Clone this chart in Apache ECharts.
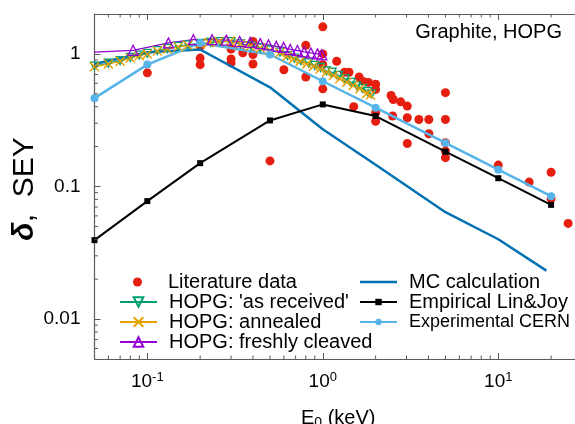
<!DOCTYPE html>
<html><head><meta charset="utf-8">
<script src="https://cdn.jsdelivr.net/npm/echarts@6/dist/echarts.min.js"></script>
<style>html,body{margin:0;padding:0;background:#fff}#c{width:575px;height:424px}</style>
</head><body><div id="c"></div>
<script>
const FONT = "'Liberation Sans', Arial, Helvetica, sans-serif";
const AXIS_COLOR = '#5a5a5a';
const xMin = 0.05, xMax = 30, yMin = 0.005, yMax = 2;
const xMinorTicks = [0.06,0.07,0.08,0.09,0.2,0.3,0.4,0.5,0.6,0.7,0.8,0.9,2,3,4,5,6,7,8,9,20];
const yMinorTicks = [0.006,0.007,0.008,0.009,0.02,0.03,0.04,0.05,0.06,0.07,0.08,0.09,0.2,0.3,0.4,0.5,0.6,0.7,0.8,0.9];

// Literature data (scatter)
const litE = [0.1,0.2,0.2,0.2,0.3,0.3,0.3,0.35,0.4,0.4,0.4,0.5,0.6,0.8,0.8,1.0,1.0,1.0,1.0,1.2,1.33,1.41,1.5,1.61,1.7,1.82,2.0,2.0,2.0,2.0,2.45,2.52,2.5,2.78,3.03,3.03,3.03,3.53,4.02,4.02,5.0,5.0,5.0,5.0,5.0,10,15,20,20,25];
const litY = [0.72,0.93,0.83,1.14,0.915,0.855,1.09,1.02,0.99,0.84,1.24,0.156,0.76,1.16,0.67,1.6,1.0,0.83,0.545,0.88,0.727,0.727,0.40,0.67,0.62,0.61,0.59,0.54,0.36,0.31,0.486,0.453,0.34,0.435,0.404,0.33,0.211,0.32,0.32,0.25,0.51,0.32,0.214,0.185,0.165,0.145,0.108,0.128,0.081,0.0527];

// HOPG: 'as received'
const recE = [0.05,0.06,0.07,0.08,0.09,0.1,0.114,0.13,0.15,0.17,0.2,0.23,0.26,0.3,0.34,0.39,0.44,0.5,0.57,0.63,0.69,0.75,0.83,0.9,0.97,1.05,1.13,1.23,1.34,1.45,1.56,1.68,1.8,1.9];
const recY = [0.81,0.85,0.89,0.94,0.98,1.01,1.06,1.10,1.14,1.17,1.20,1.22,1.24,1.24,1.19,1.15,1.11,1.07,1.03,0.97,0.93,0.89,0.855,0.82,0.79,0.745,0.727,0.69,0.65,0.61,0.575,0.55,0.52,0.50];

// HOPG: annealed
const annE = [0.05,0.06,0.07,0.08,0.09,0.1,0.114,0.13,0.15,0.17,0.2,0.225,0.255,0.297,0.338,0.386,0.44,0.5,0.57,0.624,0.68,0.743,0.81,0.885,0.965,1.05,1.15,1.25,1.37,1.49,1.63,1.78,1.87];
const annY = [0.80,0.84,0.88,0.93,0.97,1.0,1.05,1.09,1.13,1.16,1.19,1.22,1.24,1.25,1.19,1.14,1.11,1.065,1.02,0.96,0.917,0.88,0.84,0.807,0.77,0.727,0.687,0.65,0.612,0.578,0.545,0.503,0.49];

// HOPG: freshly cleaved
const clvE = [0.05,0.083,0.132,0.183,0.234,0.282,0.336,0.386,0.44,0.49,0.543,0.597,0.652,0.717,0.783,0.855,0.932,0.987];
const clvY = [1.03,1.065,1.21,1.28,1.28,1.27,1.24,1.22,1.195,1.17,1.14,1.12,1.08,1.06,1.035,1.017,1.0,0.985];

// MC calculation
const mcE = [0.05,0.1,0.2,0.5,1,2,5,10,18.8];
const mcY = [0.84,1.03,1.08,0.56,0.27,0.146,0.064,0.040,0.0232];

// Empirical Lin&Joy
const ljE = [0.05,0.1,0.2,0.5,1,2,5,10,20];
const ljY = [0.0394,0.0776,0.15,0.315,0.416,0.34,0.183,0.1155,0.0727];

// Experimental CERN
const cernE = [0.05,0.1,0.2,0.5,1,2,5,10,20];
const cernY = [0.464,0.831,1.21,0.99,0.622,0.393,0.213,0.134,0.0846];

const zip = (a, b) => a.map((v, i) => [v, b[i]]);

function minorTicks(values, dim) {
  return {
    type: 'custom', silent: true, z: 5, clip: false, animation: false,
    data: values.map(v => dim === 'x' ? [v, 1] : [1, v]),
    renderItem: (params, api) => {
      const cs = params.coordSys;
      const p = api.coord([api.value(0), api.value(1)]);
      const st = {stroke: AXIS_COLOR, lineWidth: 1};
      if (dim === 'x') {
        return {type: 'group', children: [
          {type: 'line', shape: {x1: p[0], y1: cs.y + cs.height, x2: p[0], y2: cs.y + cs.height - 3.5}, style: st},
          {type: 'line', shape: {x1: p[0], y1: cs.y, x2: p[0], y2: cs.y + 3.5}, style: st}
        ]};
      }
      return {type: 'line', shape: {x1: cs.x, y1: p[1], x2: cs.x + 3.5, y2: p[1]}, style: st};
    }
  };
}

const isPow10 = v => Math.abs(Math.log10(v) - Math.round(Math.log10(v))) < 1e-6;

const chart = echarts.init(document.getElementById('c'), null, {renderer: 'canvas'});
chart.setOption({
  animation: false,
  backgroundColor: '#fff',
  grid: {left: 94.5, top: 14, width: 487.5, height: 345, containLabel: false, outerBoundsMode: 'none'},
  xAxis: [{
    type: 'log', logBase: 10, min: xMin, max: xMax, position: 'bottom',
    axisLine: {show: true, lineStyle: {color: AXIS_COLOR, width: 1.2}},
    axisTick: {show: true, inside: true, length: 6, lineStyle: {color: AXIS_COLOR}},
    splitLine: {show: false}, minorTick: {show: false},
    axisLabel: {
      margin: 12, showMinLabel: false, showMaxLabel: false,
      formatter: v => isPow10(v) ? '{b|10}{s|' + Math.round(Math.log10(v)) + '}' : '',
      rich: {
        b: {fontSize: 19, fontFamily: FONT, color: '#000'},
        s: {fontSize: 13, fontFamily: FONT, color: '#000', padding: [0, 0, 9, 0]}
      }
    },
    name: '{e|E}{o|0}{e| (keV)}', nameLocation: 'middle', nameGap: 48,
    nameTextStyle: {
      rich: {
        e: {fontSize: 20, fontFamily: FONT, color: '#000'},
        o: {fontSize: 14, fontFamily: FONT, color: '#000', padding: [9, 0, 0, 0]}
      }
    }
  }, {
    type: 'log', logBase: 10, min: xMin, max: xMax, position: 'top',
    axisLine: {show: true, lineStyle: {color: AXIS_COLOR, width: 1.2}},
    axisTick: {show: true, inside: true, length: 6, lineStyle: {color: AXIS_COLOR}},
    axisLabel: {show: false}, splitLine: {show: false}
  }],
  yAxis: [{
    type: 'log', logBase: 10, min: yMin, max: yMax,
    axisLine: {show: true, lineStyle: {color: AXIS_COLOR, width: 1.2}},
    axisTick: {show: true, inside: true, length: 6, lineStyle: {color: AXIS_COLOR}},
    splitLine: {show: false},
    axisLabel: {
      margin: 14, showMinLabel: false, showMaxLabel: false,
      fontSize: 19, fontFamily: FONT, color: '#000',
      formatter: v => isPow10(v) ? String(+v.toPrecision(3)) : ''
    }
  }],
  legend: [{
    left: 133, top: 272, orient: 'vertical', padding: 0, itemGap: 0,
    itemWidth: 37, itemHeight: 9, selectedMode: false,
    textStyle: {fontSize: 20, fontFamily: FONT, color: '#000', lineHeight: 20, padding: [0, 0, 0, 7]},
    data: [{name: 'Literature data', icon: 'circle'}]
  }, {
    left: 119, top: 292, orient: 'vertical', padding: 0, itemGap: 0,
    itemWidth: 37, itemHeight: 12, selectedMode: false,
    textStyle: {fontSize: 20, fontFamily: FONT, color: '#000', lineHeight: 20, padding: [0, 0, 0, 7]},
    data: ["HOPG: 'as received'", 'HOPG: annealed', 'HOPG: freshly cleaved']
  }, {
    left: 359, top: 272, orient: 'vertical', padding: 0, itemGap: 0,
    itemWidth: 37, itemHeight: 8, selectedMode: false,
    formatter: n => n === 'Experimental CERN' ? '{s|' + n + '}' : n,
    textStyle: {fontSize: 20, fontFamily: FONT, color: '#000', lineHeight: 20, padding: [0, 0, 0, 7],
      rich: {s: {fontSize: 18, fontFamily: FONT, color: '#000', lineHeight: 20}}},
    data: [{name: 'MC calculation', icon: 'path://M0,0L37,0L37,2.5L0,2.5Z'}, 'Empirical Lin&Joy', 'Experimental CERN']
  }],
  graphic: [{
    type: 'text', x: 562, y: 32,
    style: {text: 'Graphite, HOPG', fontSize: 20, fontFamily: FONT, fill: '#000', align: 'right', verticalAlign: 'middle'}
  }, {
    type: 'text', x: 25, y: 189, rotation: Math.PI / 2,
    style: {
      text: '{d|δ}{n|,  SEY}', align: 'center', verticalAlign: 'middle',
      rich: {
        d: {fontSize: 30, fontFamily: FONT, fontWeight: 'bold', fontStyle: 'italic', fill: '#000'},
        n: {fontSize: 30, fontFamily: FONT, fill: '#000'}
      }
    }
  }],
  series: [
    {name: 'Literature data', type: 'scatter', data: zip(litE, litY), symbol: 'circle', symbolSize: 9,
      itemStyle: {color: '#E51E10', opacity: 1}, emphasis: {disabled: true}},
    {name: "HOPG: 'as received'", type: 'line', data: zip(recE, recY), symbol: 'triangle', symbolRotate: 180, symbolSize: 8,
      lineStyle: {color: '#009E73', width: 1.3}, itemStyle: {color: 'rgba(0,0,0,0)', borderColor: '#009E73', borderWidth: 1.3},
      emphasis: {disabled: true}},
    {name: 'HOPG: annealed', type: 'line', data: zip(annE, annY), symbol: 'path://M0,0L10,10M10,0L0,10', symbolSize: 9,
      lineStyle: {color: '#E69F00', width: 1.3}, itemStyle: {color: '#E69F00', borderColor: '#E69F00', borderWidth: 1.4},
      emphasis: {disabled: true}},
    {name: 'HOPG: freshly cleaved', type: 'line', data: zip(clvE, clvY).map((d, i) => i === 0 ? {value: d, symbol: 'none'} : d),
      symbol: 'triangle', symbolSize: 10,
      lineStyle: {color: '#9400D3', width: 1.3}, itemStyle: {color: 'rgba(0,0,0,0)', borderColor: '#9400D3', borderWidth: 1.3},
      emphasis: {disabled: true}},
    {name: 'MC calculation', type: 'line', data: zip(mcE, mcY), symbol: 'none',
      lineStyle: {color: '#0072B2', width: 2.5}, itemStyle: {color: '#0072B2'}, emphasis: {disabled: true}},
    {name: 'Empirical Lin&Joy', type: 'line', data: zip(ljE, ljY), symbol: 'rect', symbolSize: 6,
      lineStyle: {color: '#000', width: 2}, itemStyle: {color: '#000'}, emphasis: {disabled: true}},
    {name: 'Experimental CERN', type: 'line', data: zip(cernE, cernY), symbol: 'circle', symbolSize: 8,
      lineStyle: {color: '#56B4E9', width: 2.5}, itemStyle: {color: '#56B4E9'}, emphasis: {disabled: true}},
    minorTicks(xMinorTicks, 'x'),
    minorTicks(yMinorTicks, 'y')
  ]
});
</script>
</body></html>
